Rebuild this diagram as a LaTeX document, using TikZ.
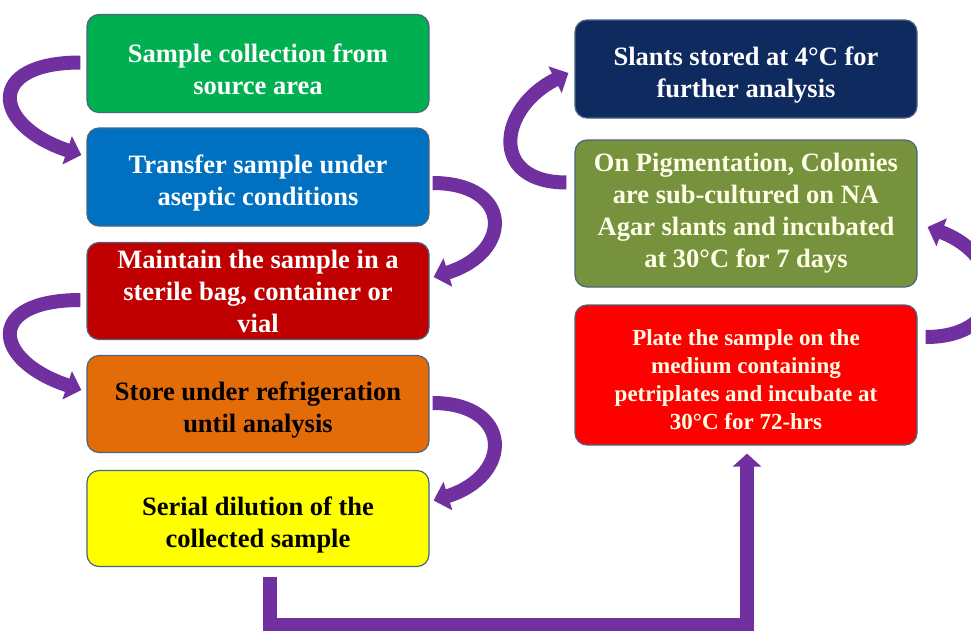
\documentclass[tikz,border=0pt]{standalone}
\usepackage{fontspec}
\setmainfont{Liberation Serif}
\usetikzlibrary{arrows.meta,calc}
\definecolor{cgreen}{HTML}{00B050}
\definecolor{cblue}{HTML}{0070C0}
\definecolor{cdred}{HTML}{C00000}
\definecolor{corange}{HTML}{E36C09}
\definecolor{cyellow}{HTML}{FFFF00}
\definecolor{cnavy}{HTML}{0F2A5E}
\definecolor{colive}{HTML}{76923C}
\definecolor{cred}{HTML}{FF0000}
\definecolor{cpurple}{HTML}{7030A0}
\definecolor{cborder}{HTML}{4A6480}
\definecolor{ccream}{HTML}{FFFFE8}
\newcommand{\tdn}[1]{\rule{0pt}{#1}}
\begin{document}
\begin{tikzpicture}[x=1pt,y=-1pt,
  box/.style={rectangle, rounded corners=12pt, draw=cborder, line width=1.2pt,
    minimum width=342pt, align=center, inner sep=0pt,
    font=\fontsize{26.5}{32}\selectfont\bfseries},
  smallbox/.style={box, font=\fontsize{23}{28}\selectfont\bfseries},
  carrow/.style={draw=cpurple, line width=14pt, -{Triangle[width=29pt,length=15pt]}},
  barrow/.style={draw=cpurple, line width=14pt, -{Triangle[width=28pt,length=13pt]}}]
\useasboundingbox (0,0) rectangle (971,630);
\clip (0,0) rectangle (971,630);
% left column
\node[box, fill=cgreen, text=white, minimum height=98pt] (G) at (258,63.5) {\tdn{31pt}Sample collection from\\source area};
\node[box, fill=cblue, text=white, minimum height=98pt] (B) at (258,177) {\tdn{31pt}Transfer sample under\\aseptic conditions};
\node[box, fill=cdred, text=white, minimum height=97pt] (DR) at (258,291) {Maintain the sample in a\\sterile bag, container or\\vial};
\node[box, fill=corange, text=black, minimum height=97pt] (O) at (258,404) {\tdn{31pt}Store under refrigeration\\until analysis};
\node[box, fill=cyellow, text=black, minimum height=96pt] (Y) at (258,518.5) {\tdn{31pt}Serial dilution of the\\collected sample};
% right column
\node[box, fill=cnavy, text=white, minimum height=98pt] (R1) at (746,69) {\tdn{31pt}Slants stored at 4°C for\\further analysis};
\node[box, fill=colive, text=ccream, minimum height=147pt] (R2) at (746,213.5) {On Pigmentation, Colonies\\are sub-cultured on NA\\Agar slants and incubated\\at 30°C for 7 days};
\node[smallbox, fill=cred, text=ccream, minimum height=140pt] (R3) at (746,375) {\tdn{25pt}Plate the sample on the\\medium containing\\petriplates and incubate at\\30°C for 72-hrs};
% curved arrows
\coordinate (s1) at ($(G.west)+(-6,-1)$);
\coordinate (e1) at ($(B.west)+(-5,-22)$);
\draw[carrow] (s1) .. controls ($(s1)+(-95,0)$) and ($(e1)+(-90,-30)$) .. (e1);
\coordinate (s2) at ($(B.east)+(3,6)$);
\coordinate (e2) at ($(DR.east)+(4,-14)$);
\draw[carrow] (s2) .. controls ($(s2)+(80,0)$) and ($(e2)+(80,-25)$) .. (e2);
\coordinate (s3) at ($(DR.west)+(-6,9)$);
\coordinate (e3) at ($(O.west)+(-5,-14)$);
\draw[carrow] (s3) .. controls ($(s3)+(-95,0)$) and ($(e3)+(-90,-30)$) .. (e3);
\coordinate (s4) at ($(O.east)+(3,-1)$);
\coordinate (e4) at ($(Y.east)+(4,-18)$);
\draw[carrow] (s4) .. controls ($(s4)+(80,0)$) and ($(e4)+(80,-25)$) .. (e4);
\coordinate (s5) at ($(R2.west)+(-8,-31)$);
\coordinate (e5) at ($(R1.west)+(-6,4)$);
\draw[carrow] (s5) .. controls ($(s5)+(-78,0)$) and ($(e5)+(-70,35)$) .. (e5);
\coordinate (s6) at ($(R3.east)+(8,-38)$);
\coordinate (e6) at ($(R2.east)+(10,13.5)$);
\draw[carrow] (s6) .. controls ($(s6)+(85,0)$) and ($(e6)+(80,30)$) .. (e6);
% bottom connector
\coordinate (c1) at ($(Y.south)+(12,10)$);
\coordinate (cb) at ($(c1)+(0,48)$);
\coordinate (c2) at ($(R3.south)+(1,8)$);
\draw[barrow] (c1) -- (cb) -| (c2);
\end{tikzpicture}
\end{document}
